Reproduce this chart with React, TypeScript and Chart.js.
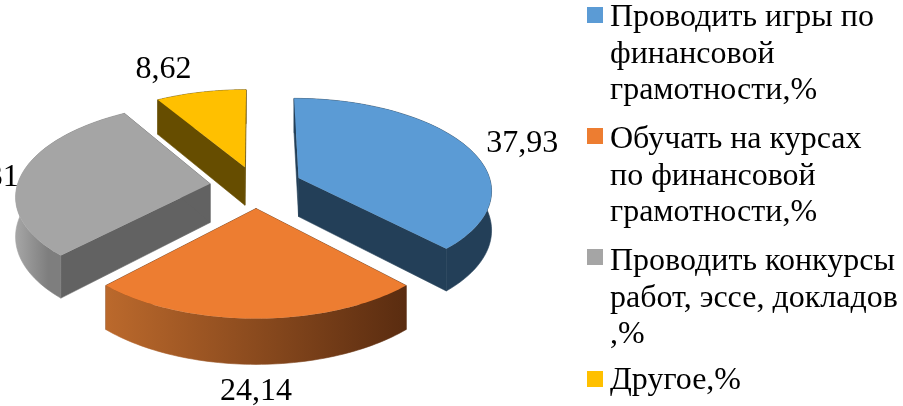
import React, { useEffect, useRef } from "react";
import { Chart, registerables } from "chart.js";

Chart.register(...registerables);

const categories = [
  "Проводить игры по финансовой грамотности,%",
  "Обучать на курсах по финансовой грамотности,%",
  "Проводить конкурсы работ, эссе, докладов ,%",
  "Другое,%",
];
const legendLines = [
  ["Проводить игры по", "финансовой", "грамотности,%"],
  ["Обучать на курсах", "по финансовой", "грамотности,%"],
  ["Проводить конкурсы", "работ, эссе, докладов", ",%"],
  ["Другое,%"],
];
const values = [37.93, 24.14, 29.31, 8.62];
const valueLabels = ["37,93", "24,14", "29,31", "8,62"];

const topColors = ["#5b9bd5", "#ed7d31", "#a5a5a5", "#ffc000"];
const explode = [24, 24, 24, 22];

// style of the 3D view
const VIEW = { cx: 256, cy: 186, rx: 193, ry: 91, p: 0.12, depth: 39 };
const wallFlat = ["#233f58", "#5f3012", "#626262", "#664d00"];
const wallGradients: string[][] = [
  ["#233f58", "#233f58"],
  ["#bb692c", "#5a2c10"],
  ["#a6a6a6", "#7e7e7e"],
  ["#664d00", "#664d00"],
];
const labelR = [1.305, 1.54, 1.195, 1.39];
const labelShift = [3.5, 0, -3, -5.9];
const FONT = '32px "Liberation Serif", "Times New Roman", serif';
const LEGEND = {
  boxX: 587,
  textX: 610,
  box: 16,
  boxTop: [7, 128, 249, 371],
  firstBaseline: [26, 148, 270, 389],
  lineStep: 36.5,
};

function project(X: number, Y: number, z: number) {
  const s = 1 / (1 - VIEW.p * Y);
  return {
    x: VIEW.cx + VIEW.rx * X * s,
    y: VIEW.cy + VIEW.ry * Y * s + z * VIEW.depth * s,
  };
}

const threeD = {
  id: "threeD",
  beforeDatasetDraw(chart: any) {
    const ctx = chart.ctx;
    const arcs = chart.getDatasetMeta(0).data;
    // back to front
    [3, 2, 0, 1].forEach((i) => {
      const arc = arcs[i];
      const e = (arc.options.offset || 0) / 100;
      const a0 = arc.startAngle;
      const a1 = arc.endAngle;
      const mid = (a0 + a1) / 2;
      const ox = Math.cos(mid) * e;
      const oy = Math.sin(mid) * e;
      const N = 64;
      const pts: { X: number; Y: number }[] = [];
      for (let k = 0; k <= N; k++) {
        const a = a0 + ((a1 - a0) * k) / N;
        pts.push({ X: ox + Math.cos(a), Y: oy + Math.sin(a) });
      }
      const poly = (list: { x: number; y: number }[], fill: any, seal = false) => {
        ctx.beginPath();
        list.forEach((p, j) => (j ? ctx.lineTo(p.x, p.y) : ctx.moveTo(p.x, p.y)));
        ctx.closePath();
        ctx.fillStyle = fill;
        ctx.fill();
        if (seal) {
          ctx.strokeStyle = fill;
          ctx.lineWidth = 0.6;
          ctx.stroke();
        }
      };
      const tipT = project(ox, oy, 0);
      const tipB = project(ox, oy, 1);
      const first = pts[0];
      const last = pts[N];
      // radial faces
      poly([tipT, project(first.X, first.Y, 0), project(first.X, first.Y, 1), tipB], wallFlat[i], true);
      poly([tipT, project(last.X, last.Y, 0), project(last.X, last.Y, 1), tipB], wallFlat[i], true);
      // outer wall
      const tops = pts.map((p) => project(p.X, p.Y, 0));
      const bottoms = pts.map((p) => project(p.X, p.Y, 1));
      const xs = tops.map((p) => p.x);
      const g = ctx.createLinearGradient(Math.min(...xs), 0, Math.max(...xs), 0);
      g.addColorStop(0, wallGradients[i][0]);
      g.addColorStop(i === 2 ? 0.3 : 1, wallGradients[i][1]);
      if (i === 2) g.addColorStop(1, wallGradients[i][1]);
      poly([...tops, ...bottoms.slice().reverse()], g, true);
      // top face
      poly([tipT, ...tops], arc.options.backgroundColor);
    });
    return false;
  },
  afterDatasetsDraw(chart: any) {
    const ctx = chart.ctx;
    const arcs = chart.getDatasetMeta(0).data;
    ctx.save();
    ctx.font = FONT;
    ctx.fillStyle = "#000000";
    ctx.textBaseline = "middle";
    ctx.textAlign = "center";
    arcs.forEach((arc: any, i: number) => {
      const e = (arc.options.offset || 0) / 100;
      const mid = (arc.startAngle + arc.endAngle) / 2;
      const la = mid + (labelShift[i] * Math.PI) / 180;
      const p = project(
        Math.cos(mid) * e + Math.cos(la) * labelR[i],
        Math.sin(mid) * e + Math.sin(la) * labelR[i],
        0
      );
      ctx.fillText(valueLabels[i], p.x, p.y);
    });
    ctx.textAlign = "left";
    ctx.textBaseline = "alphabetic";
    legendLines.forEach((lines, i) => {
      const base = LEGEND.firstBaseline[i];
      ctx.fillStyle = topColors[i];
      ctx.fillRect(LEGEND.boxX, LEGEND.boxTop[i], LEGEND.box, LEGEND.box);
      ctx.fillStyle = "#000000";
      lines.forEach((line, j) => ctx.fillText(line, LEGEND.textX, base + j * LEGEND.lineStep));
    });
    ctx.restore();
  },
};

export default function App() {
  const ref = useRef<HTMLCanvasElement>(null);
  useEffect(() => {
    const chart = new Chart(ref.current!, {
      type: "pie",
      data: {
        labels: categories,
        datasets: [
          {
            data: values,
            backgroundColor: topColors,
            offset: explode,
            borderWidth: 0,
            clip: false,
          } as any,
        ],
      },
      options: {
        animation: false,
        responsive: false,
        plugins: { legend: { display: false }, tooltip: { enabled: false } },
      },
      plugins: [threeD],
    });
    return () => chart.destroy();
  }, []);
  return (
    <div style={{ position: "absolute", left: 0, top: 0, width: 903, height: 406, background: "#fff", overflow: "hidden" }}>
      <canvas ref={ref} width={903} height={406} style={{ display: "block" }} />
    </div>
  );
}
